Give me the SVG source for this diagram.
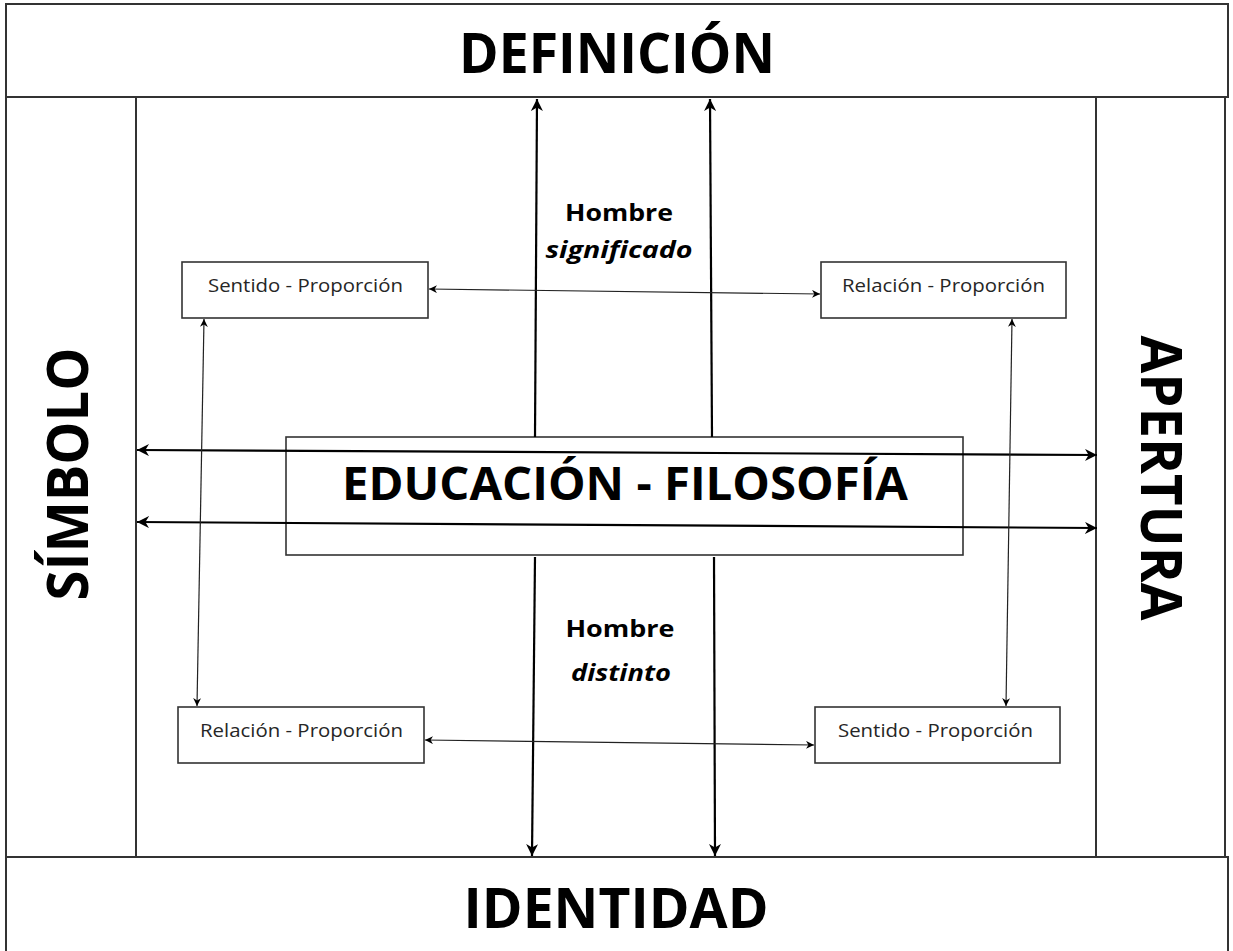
<svg xmlns="http://www.w3.org/2000/svg" width="1233" height="951" viewBox="0 0 1233 951">
<defs>
<marker id="ah" viewBox="0 0 10 10" refX="10" refY="5" markerWidth="8" markerHeight="8" markerUnits="userSpaceOnUse" orient="auto-start-reverse">
<path d="M0,0 L10,5 L0,10 L3,5 z" fill="#000"/>
</marker>
<marker id="ahb" viewBox="0 0 10 10" refX="10" refY="5" markerWidth="12" markerHeight="12" markerUnits="userSpaceOnUse" orient="auto-start-reverse">
<path d="M0,0 L10,5 L0,10 L3,5 z" fill="#000"/>
</marker>
<style>
.frame{fill:#fff;stroke:#333;stroke-width:2}
.box{fill:#fff;stroke:#333;stroke-width:1.6}
.big{font-family:"Open Sans","Noto Sans",sans-serif;font-weight:bold;fill:#000}
.mid{font-family:"Open Sans","Noto Sans",sans-serif;font-weight:bold;fill:#000;font-size:24px}
.sm{font-family:"Open Sans","Noto Sans",sans-serif;fill:#262626;font-size:18px}
.a1{stroke:#000;stroke-width:2.2;fill:none}
.a2{stroke:#222;stroke-width:1.2;fill:none}
</style>
</defs>
<rect width="1233" height="951" fill="#fff"/>
<g id="definicion">
<rect class="frame" x="6" y="4" width="1222" height="93"/>
<text class="big" x="617" y="73" font-size="56" text-anchor="middle" textLength="316" lengthAdjust="spacingAndGlyphs">DEFINICIÓN</text>
</g>
<g id="simbolo">
<rect class="frame" x="6" y="97" width="130" height="760"/>
<text class="big" transform="translate(88,474) rotate(-90)" x="0" y="0" font-size="58" text-anchor="middle" textLength="253" lengthAdjust="spacingAndGlyphs">SÍMBOLO</text>
</g>
<g id="apertura">
<rect class="frame" x="1096" y="97" width="129" height="760"/>
<text class="big" transform="translate(1141,478) rotate(90)" x="0" y="0" font-size="58" text-anchor="middle" textLength="285" lengthAdjust="spacingAndGlyphs">APERTURA</text>
</g>
<g id="identidad">
<rect class="frame" x="6" y="857" width="1222" height="100"/>
<text class="big" x="616" y="928" font-size="56" text-anchor="middle" textLength="305" lengthAdjust="spacingAndGlyphs">IDENTIDAD</text>
</g>
<g id="educacion">
<rect class="box" x="286" y="437" width="677" height="118" style="fill:none"/>
<text class="big" x="625" y="500" font-size="47" text-anchor="middle" textLength="566" lengthAdjust="spacingAndGlyphs">EDUCACIÓN - FILOSOFÍA</text>
</g>
<g id="hombre-significado">
<text class="mid" x="619" y="221" text-anchor="middle" textLength="108" lengthAdjust="spacingAndGlyphs">Hombre</text>
<text class="mid" x="619" y="258" text-anchor="middle" font-style="italic" textLength="147" lengthAdjust="spacingAndGlyphs">significado</text>
</g>
<g id="hombre-distinto">
<text class="mid" x="620" y="637" text-anchor="middle" textLength="109" lengthAdjust="spacingAndGlyphs">Hombre</text>
<text class="mid" x="621" y="681" text-anchor="middle" font-style="italic" textLength="100" lengthAdjust="spacingAndGlyphs">distinto</text>
</g>
<g id="connectors">
<line class="a1" x1="535" y1="437" x2="537" y2="99" marker-end="url(#ahb)"/>
<line class="a1" x1="712" y1="437" x2="710" y2="99" marker-end="url(#ahb)"/>
<line class="a1" x1="535" y1="557" x2="532" y2="856" marker-end="url(#ahb)"/>
<line class="a1" x1="714" y1="557" x2="715" y2="856" marker-end="url(#ahb)"/>
<line class="a1" x1="137" y1="450" x2="1097" y2="455" marker-start="url(#ahb)" marker-end="url(#ahb)"/>
<line class="a1" x1="137" y1="522" x2="1097" y2="528" marker-start="url(#ahb)" marker-end="url(#ahb)"/>
<line class="a2" x1="429" y1="289" x2="820" y2="294" marker-start="url(#ah)" marker-end="url(#ah)"/>
<line class="a2" x1="425" y1="740" x2="814" y2="745" marker-start="url(#ah)" marker-end="url(#ah)"/>
<line class="a2" x1="204" y1="319" x2="197" y2="706" marker-start="url(#ah)" marker-end="url(#ah)"/>
<line class="a2" x1="1012" y1="319" x2="1006" y2="706" marker-start="url(#ah)" marker-end="url(#ah)"/>
</g>
<g id="tl-sentido">
<rect class="box" x="182" y="262" width="246" height="56"/>
<text class="sm" x="305.5" y="292" text-anchor="middle" textLength="195" lengthAdjust="spacingAndGlyphs">Sentido - Proporción</text>
</g>
<g id="tr-relacion">
<rect class="box" x="821" y="262" width="245" height="56"/>
<text class="sm" x="943.5" y="292" text-anchor="middle" textLength="203" lengthAdjust="spacingAndGlyphs">Relación - Proporción</text>
</g>
<g id="bl-relacion">
<rect class="box" x="178" y="707" width="246" height="56"/>
<text class="sm" x="301.5" y="737" text-anchor="middle" textLength="203" lengthAdjust="spacingAndGlyphs">Relación - Proporción</text>
</g>
<g id="br-sentido">
<rect class="box" x="815" y="707" width="245" height="56"/>
<text class="sm" x="935.5" y="737" text-anchor="middle" textLength="195" lengthAdjust="spacingAndGlyphs">Sentido - Proporción</text>
</g>
</svg>
